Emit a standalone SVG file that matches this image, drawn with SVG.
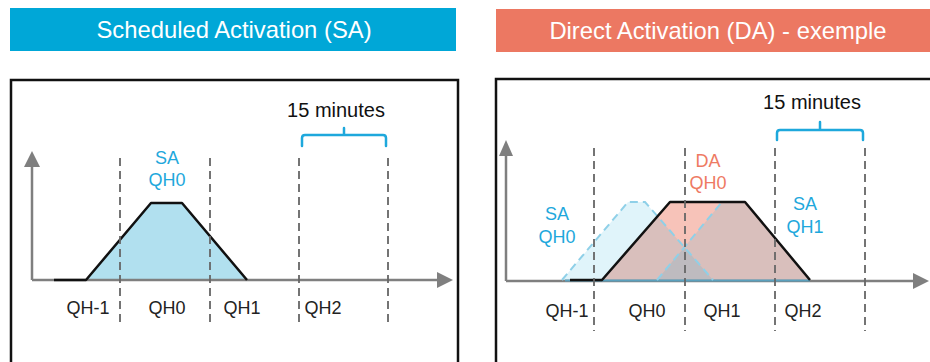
<svg xmlns="http://www.w3.org/2000/svg" width="930" height="362" viewBox="0 0 930 362">
<defs>
<style>
text{font-family:"Liberation Sans",Arial,sans-serif}
.hdr{font-size:23.8px;fill:#fff;text-anchor:middle}
.lbl{font-size:18px;fill:#222;text-anchor:middle}
.blue{font-size:18px;fill:#1ea8dc;text-anchor:middle}
.red{font-size:18px;fill:#ee7a63;text-anchor:middle}
.min{font-size:20px;fill:#111;text-anchor:middle}
.frame{fill:none;stroke:#111;stroke-width:2.5}
.axis{stroke:#7f7f7f;stroke-width:2.5;fill:none}
.ah{fill:#7f7f7f}
.qh{stroke:#666;stroke-width:2;stroke-dasharray:8 5;opacity:0.9}
.brace{fill:none;stroke:#1ea8dc;stroke-width:2.5;stroke-linejoin:round;stroke-linecap:round}
.curve{fill:none;stroke:#111;stroke-width:2.5;stroke-linejoin:round}
.ghost{fill:#00a6d6;fill-opacity:0.12;stroke:none}
.ghostline{fill:none;stroke:#8fd0e8;stroke-width:2;stroke-dasharray:8 5}
</style>
</defs>

<g id="sa-header">
<rect x="10" y="8" width="446" height="43" fill="#00a7d7"/>
<text class="hdr" x="234" y="38">Scheduled Activation (SA)</text>
</g>
<g id="da-header">
<rect x="496" y="9" width="434" height="43" fill="#ec7862"/>
<text class="hdr" x="718" y="39">Direct Activation (DA) - exemple</text>
</g>

<g id="sa-panel">
<rect class="frame" x="11" y="80" width="447" height="300"/>
<polygon points="86,280 151,203 182,203 247,280" fill="#b1e0ef"/>
<g id="sa-axes">
<line class="axis" x1="32" y1="280" x2="32" y2="165"/>
<polygon class="ah" points="32,151 24,167 40,167"/>
<line class="axis" x1="32" y1="280" x2="439" y2="280"/>
<polygon class="ah" points="453,280 437,272 437,288"/>
</g>
<path class="curve" d="M54,280 H86 L151,203 H182 L247,280"/>
<g id="sa-qh-lines">
<line class="qh" x1="120" y1="158" x2="120" y2="326"/>
<line class="qh" x1="210" y1="158" x2="210" y2="326"/>
<line class="qh" x1="299" y1="158" x2="299" y2="326"/>
<line class="qh" x1="388" y1="158" x2="388" y2="326"/>
</g>
<path class="brace" d="M302,146 V138 Q302,135 305,135 H383 Q386,135 386,138 V146 M344,135 V128"/>
<text class="min" x="336" y="117">15 minutes</text>
<text class="blue" x="167" y="164">SA</text>
<text class="blue" x="167" y="186">QH0</text>
<text class="lbl" x="88" y="314">QH-1</text>
<text class="lbl" x="167" y="314">QH0</text>
<text class="lbl" x="242" y="314">QH1</text>
<text class="lbl" x="323" y="314">QH2</text>
</g>

<g id="da-panel">
<rect class="frame" x="496" y="79" width="450" height="300"/>
<polygon points="602,280 670,202 745,202 810,280" fill="#ec7760" fill-opacity="0.44"/>
<polygon class="ghost" points="562,280 628,202 645,202 713,280"/>
<polygon class="ghost" points="657,280 722,202 745,202 810,280"/>
<g id="da-axes">
<line class="axis" x1="506" y1="281" x2="506" y2="154"/>
<polygon class="ah" points="506,140 499,156 513,156"/>
<line class="axis" x1="506" y1="281" x2="915" y2="281"/>
<polygon class="ah" points="929,281 913,273 913,289"/>
</g>
<line x1="565" y1="280.5" x2="810" y2="280.5" stroke="#5aa0bd" stroke-width="2"/>
<path class="ghostline" d="M562,280 L628,202 H645 L713,280"/>
<path class="ghostline" d="M657,280 L722,202 H745"/>
<path class="curve" d="M570,280 H602 L670,202 H745 L810,280"/>
<g id="da-qh-lines">
<line class="qh" x1="594" y1="148" x2="594" y2="331"/>
<line class="qh" x1="685" y1="148" x2="685" y2="331"/>
<line class="qh" x1="775" y1="148" x2="775" y2="331"/>
<line class="qh" x1="865" y1="148" x2="865" y2="331"/>
</g>
<path class="brace" d="M777,140 V133 Q777,130 780,130 H860 Q863,130 863,133 V140 M820,130 V122"/>
<text class="min" x="812" y="109">15 minutes</text>
<text class="red" x="708" y="167">DA</text>
<text class="red" x="708" y="189">QH0</text>
<text class="blue" x="557" y="220">SA</text>
<text class="blue" x="557" y="243">QH0</text>
<text class="blue" x="805" y="210">SA</text>
<text class="blue" x="805" y="233">QH1</text>
<text class="lbl" x="567" y="317">QH-1</text>
<text class="lbl" x="647" y="317">QH0</text>
<text class="lbl" x="722" y="317">QH1</text>
<text class="lbl" x="803" y="317">QH2</text>
</g>
</svg>
